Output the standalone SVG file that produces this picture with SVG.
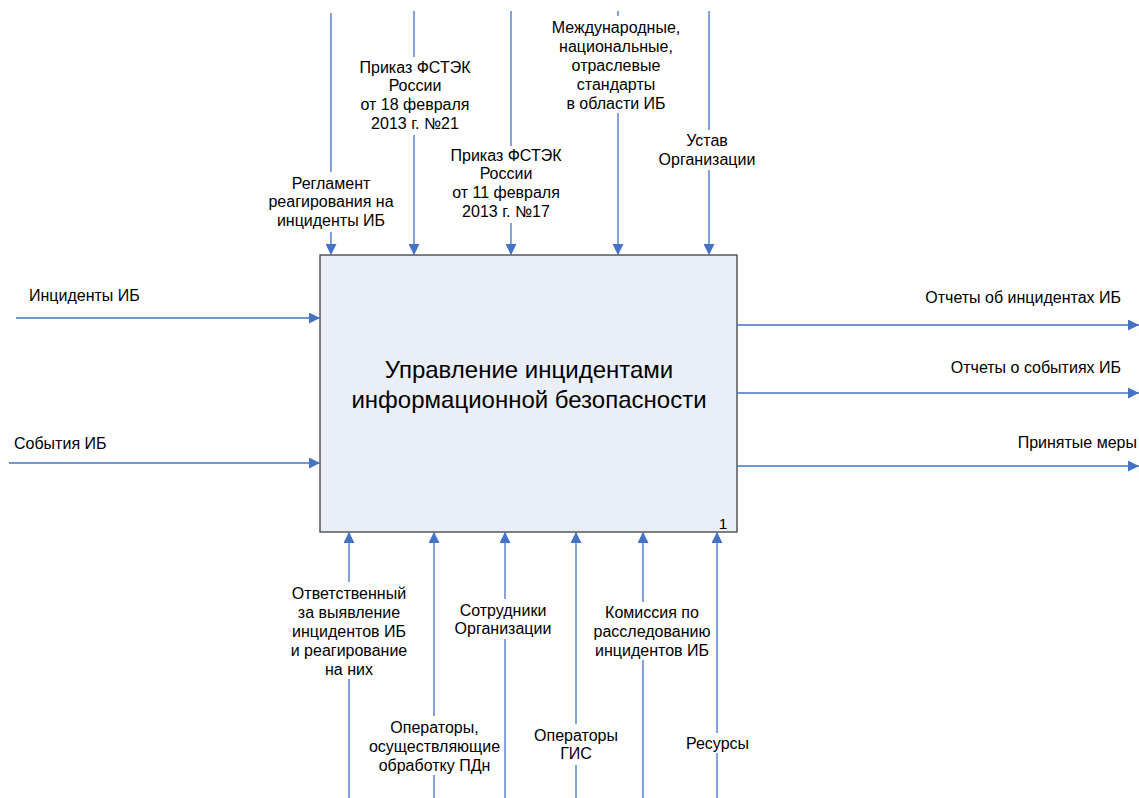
<svg xmlns="http://www.w3.org/2000/svg" width="1139" height="798" viewBox="0 0 1139 798">
<style>
text{font-family:"Liberation Sans",Arial,sans-serif;fill:#000;}
.l{font-size:16px;text-anchor:middle;}
.s{font-size:16px;}
.e{font-size:16px;text-anchor:end;}
.t{font-size:24px;text-anchor:middle;}
.c{fill:none;stroke:#4472C4;stroke-width:1.3;marker-end:url(#ah);}
</style>
<defs>
<marker id="ah" markerUnits="userSpaceOnUse" markerWidth="11" markerHeight="11" refX="10" refY="5" orient="auto" viewBox="0 0 10 10">
<path d="M0,0 L10,5 L0,10 z" fill="#4472C4"/>
</marker>
</defs>
<rect width="1139" height="798" fill="#fff"/>
<g id="box">
<rect x="320" y="255" width="417" height="277" fill="#E9EEF7" stroke="#404040" stroke-width="1.3"/>
<text class="t" x="529" y="378">Управление инцидентами</text>
<text class="t" x="529" y="408">информационной безопасности</text>
<text x="723" y="528.5" style="font-size:15.5px;text-anchor:middle">1</text>
</g>
<g id="connectors">
<path class="c" d="M331 13V172M331 232V255"/>
<path class="c" d="M414 11V57M414 135V255"/>
<path class="c" d="M511 11V146M511 223V255"/>
<path class="c" d="M618 11V16M618 113V255"/>
<path class="c" d="M709 11V130M709 170V255"/>
<path class="c" d="M349 798V679M349 582V532"/>
<path class="c" d="M434 798V775M434 716V532"/>
<path class="c" d="M505 798V639M505 599V532"/>
<path class="c" d="M576 798V765M576 724V532"/>
<path class="c" d="M643 798V660M643 602V532"/>
<path class="c" d="M717 798V753M717 733V532"/>
<path class="c" d="M16 318H320"/>
<path class="c" d="M9 463H320"/>
<path class="c" d="M737 325H1139"/>
<path class="c" d="M737 393H1139"/>
<path class="c" d="M737 466H1139"/>
</g>
<g id="labels">
<text class="l" x="331" y="188.5">Регламент<tspan x="331" dy="18.7">реагирования на</tspan><tspan x="331" dy="18.7">инциденты ИБ</tspan></text>
<text class="l" x="415" y="72.5">Приказ ФСТЭК<tspan x="415" dy="18.9">России</tspan><tspan x="415" dy="18.9">от 18 февраля</tspan><tspan x="415" dy="18.9">2013 г. №21</tspan></text>
<text class="l" x="506" y="160.5">Приказ ФСТЭК<tspan x="506" dy="18.9">России</tspan><tspan x="506" dy="18.9">от 11 февраля</tspan><tspan x="506" dy="18.9">2013 г. №17</tspan></text>
<text class="l" x="616" y="32.5">Международные,<tspan x="616" dy="19">национальные,</tspan><tspan x="616" dy="19">отраслевые</tspan><tspan x="616" dy="19">стандарты</tspan><tspan x="616" dy="19">в области ИБ</tspan></text>
<text class="l" x="707" y="145.5">Устав<tspan x="707" dy="19">Организации</tspan></text>
<text class="l" x="349" y="598.5">Ответственный<tspan x="349" dy="19">за выявление</tspan><tspan x="349" dy="19">инцидентов ИБ</tspan><tspan x="349" dy="19">и реагирование</tspan><tspan x="349" dy="19">на них</tspan></text>
<text class="l" x="434.5" y="732.5">Операторы,<tspan x="434.5" dy="19">осуществляющие</tspan><tspan x="434.5" dy="19">обработку ПДн</tspan></text>
<text class="l" x="503" y="615.5">Сотрудники<tspan x="503" dy="18.5">Организации</tspan></text>
<text class="l" x="576" y="740.5">Операторы<tspan x="576" dy="18.5">ГИС</tspan></text>
<text class="l" x="652" y="617.5">Комиссия по<tspan x="652" dy="19">расследованию</tspan><tspan x="652" dy="19">инцидентов ИБ</tspan></text>
<text class="l" x="717.5" y="748.5">Ресурсы</text>
<text class="s" x="29" y="300.5">Инциденты ИБ</text>
<text class="s" x="14" y="448.5">События ИБ</text>
<text class="e" x="1121" y="302.5">Отчеты об инцидентах ИБ</text>
<text class="e" x="1121" y="372.5">Отчеты о событиях ИБ</text>
<text class="e" x="1137" y="447.5">Принятые меры</text>
</g>
</svg>
